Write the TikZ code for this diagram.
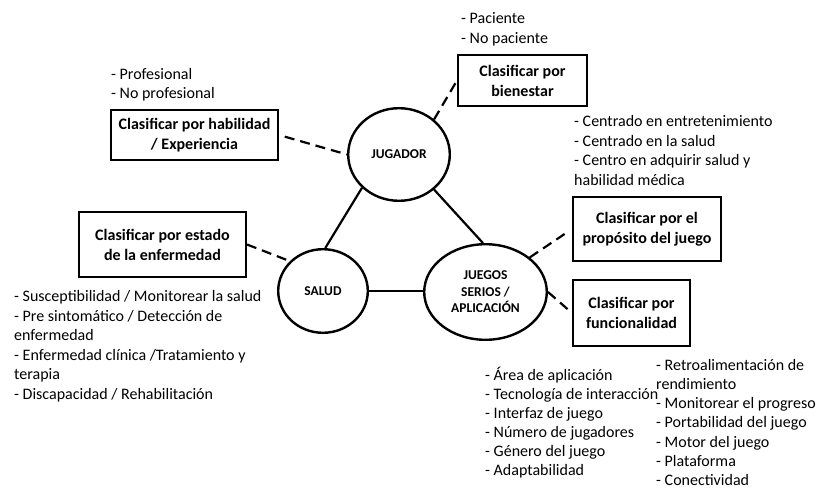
\documentclass[tikz,border=0pt]{standalone}
\usepackage{fontspec}
\setmainfont{Carlito}
\usetikzlibrary{shapes.geometric}
\begin{document}
\begin{tikzpicture}[x=1pt,y=-1pt,
  boxnode/.style={draw, line width=2.4pt, inner sep=0pt, align=center,
    font=\bfseries\fontsize{16}{20}\selectfont},
  ellnode/.style={draw, ellipse, line width=2.4pt, inner sep=0pt, align=center,
    font=\bfseries\fontsize{13.5}{16.5}\selectfont},
  lst/.style={anchor=north west, inner sep=0pt, align=left,
    font=\fontsize{16}{19.5}\selectfont},
  solidline/.style={line width=2.2pt},
  dashline/.style={line width=2.2pt, dash pattern=on 10pt off 6pt}
]
\path[use as bounding box] (0,0) rectangle (818,489);

% central ellipses
\node[ellnode, minimum width=101.6pt, minimum height=92.6pt] (jug) at (399,154.5) {JUGADOR};
\node[ellnode, minimum width=89.6pt, minimum height=83.6pt] (sal) at (323,291) {SALUD};
\node[ellnode, minimum width=122.6pt, minimum height=95.6pt] (jue) at (485.5,292) {JUEGOS\\SERIOS /\\APLICACIÓN};

% boxes
\node[boxnode, minimum width=166.6pt, minimum height=49.6pt] (hab) at (194.5,135) {Clasificar por habilidad\\/ Experiencia};
\node[boxnode, minimum width=166.6pt, minimum height=64.6pt] (est) at (162.5,244.5) {Clasificar por estado\\de la enfermedad};
\node[boxnode, minimum width=128.6pt, minimum height=50.6pt] (bien) at (522.5,80.5) {Clasificar por\\bienestar};
\node[boxnode, minimum width=147.6pt, minimum height=63.6pt] (prop) at (647,229) {Clasificar por el\\propósito del juego};
\node[boxnode, minimum width=116.6pt, minimum height=65.6pt] (func) at (631.5,313) {Clasificar por\\funcionalidad};

% solid connectors
\draw[solidline] (jug.222) -- (sal.87);
\draw[solidline] (jug.-45) -- (jue.93);
\draw[solidline] (sal.0) -- (sal.0 -| jue.west);

% dashed connectors
\draw[dashline, shorten <=6pt] (hab.east) -- (jug.west);
\draw[dashline] (jug.45) -- (bien.west);
\draw[dashline] (est.east) -- (sal.138);
\draw[dashline, shorten >=3pt] (jue.38) -- (prop.west);
\draw[dashline, shorten >=4pt] (jue.east) -- (func.west);

% lists
\node[lst] (lprof) at (111,65) {\rule{0pt}{14pt}- Profesional\\- No profesional};
\node[lst] (lpac) at (461,9.5) {\rule{0pt}{14pt}- Paciente\\- No paciente};
\node[lst] (lcen) at (574,112.5) {\rule{0pt}{14pt}- Centrado en entretenimiento\\- Centrado en la salud\\- Centro en adquirir salud y\\habilidad médica};
\node[lst] (lsal) at (14,287.5) {\rule{0pt}{14pt}- Susceptibilidad / Monitorear la salud\\- Pre sintomático / Detección de\\enfermedad\\- Enfermedad clínica /Tratamiento y\\terapia\\- Discapacidad / Rehabilitación};
\node[lst, font=\fontsize{16}{19}\selectfont] (lfa) at (485,366) {\rule{0pt}{14pt}- Área de aplicación\\- Tecnología de interacción\\- Interfaz de juego\\- Número de jugadores\\- Género del juego\\- Adaptabilidad};
\node[lst, font=\fontsize{16}{19.2}\selectfont] (lfb) at (656,356) {\rule{0pt}{14pt}- Retroalimentación de\\rendimiento\\- Monitorear el progreso\\- Portabilidad del juego\\- Motor del juego\\- Plataforma\\- Conectividad};
\end{tikzpicture}
\end{document}
